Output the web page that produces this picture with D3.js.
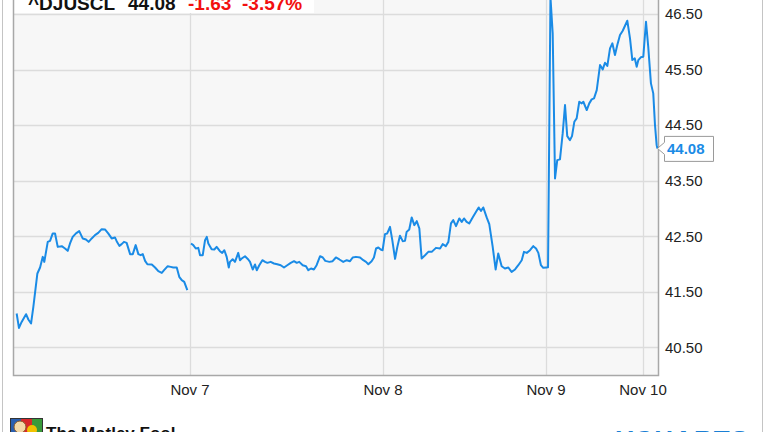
<!DOCTYPE html>
<html><head><meta charset="utf-8">
<script src="https://cdn.jsdelivr.net/npm/d3@7/dist/d3.min.js"></script>
<style>
html,body{margin:0;padding:0;background:#fff;}
svg{display:block;font-family:"Liberation Sans",Arial,sans-serif;}
</style></head>
<body>
<script>
// ---- Data (x = day of November, fractional; y = price) ----
const symbol = "^DJUSCL";
const lastPrice = 44.08;
const change = "-1.63";
const changePct = "-3.57%";

const seg1Days = [6.097,6.109,6.123,6.146,6.158,6.172,6.184,6.205,6.219,6.233,6.241,6.259,6.271,6.285,6.297,6.311,6.332,6.349,6.363,6.375,6.389,6.406,6.423,6.441,6.458,6.472,6.488,6.505,6.522,6.540,6.557,6.574,6.592,6.609,6.618,6.632,6.644,6.656,6.670,6.688,6.702,6.717,6.731,6.743,6.754,6.766,6.778,6.801,6.818,6.835,6.853,6.865,6.884,6.899,6.913,6.931,6.944,6.957,6.970,6.986];
const seg1Prices = [41.107,40.848,40.956,41.095,40.999,40.927,41.226,41.828,41.936,42.127,42.037,42.397,42.415,42.549,42.549,42.307,42.320,42.278,42.235,42.368,42.487,42.549,42.590,42.459,42.441,42.397,42.459,42.518,42.559,42.626,42.621,42.549,42.459,42.477,42.410,42.325,42.356,42.397,42.379,42.176,42.176,42.338,42.176,42.158,42.176,42.055,41.995,41.990,41.936,41.869,41.839,41.887,41.959,41.947,41.936,41.936,41.767,41.707,41.677,41.527];

const seg2Days = [7.005,7.017,7.030,7.043,7.052,7.066,7.078,7.087,7.095,7.112,7.126,7.138,7.155,7.167,7.178,7.190,7.201,7.207,7.221,7.233,7.250,7.259,7.268,7.285,7.302,7.311,7.325,7.337,7.346,7.359,7.375,7.389,7.401,7.418,7.435,7.452,7.470,7.487,7.504,7.522,7.539,7.553,7.566,7.584,7.601,7.613,7.627,7.642,7.656,7.674,7.688,7.701,7.722,7.739,7.756,7.774,7.794,7.812,7.829,7.843,7.860,7.881,7.898,7.912,7.924,7.941,7.953,7.964,7.976,7.988,7.998,
  8.012,8.026,8.043,8.057,8.074,8.088,8.104,8.121,8.135,8.145,8.161,8.176,8.192,8.207,8.223,8.237,8.258,8.278,8.299,8.325,8.350,8.366,8.385,8.401,8.417,8.431,8.448,8.468,8.483,8.497,8.513,8.529,8.550,8.571,8.587,8.601,8.615,8.636,8.652,8.673,8.691,8.707,8.728,8.748,8.769,8.789,8.810,8.830,8.851,8.865,8.882,8.902,8.922,8.939,8.953,8.969,8.983,9.004,9.021,
  9.046,9.069,9.093,9.116,9.144,9.172,9.196,9.219,9.247,9.268,9.292,9.316,9.343,9.368,9.385,9.420,9.446,9.471,9.495,9.523,9.557,9.585,9.608,9.632,9.660,9.684,9.711,9.735,9.763,9.791,9.838,9.866,9.890,9.915,9.935,9.952,9.977,10.003,10.031,10.054,10.082,10.106,10.124,10.141,10.149];
const seg2Prices = [42.368,42.338,42.278,42.289,42.157,42.157,42.428,42.487,42.368,42.266,42.260,42.307,42.229,42.199,42.247,42.127,41.936,42.037,42.085,42.037,42.199,42.067,42.098,42.139,42.080,42.037,41.900,41.990,41.887,41.977,42.067,42.037,42.019,42.037,42.008,41.995,41.977,41.936,41.977,42.019,42.049,42.019,42.037,41.977,41.959,41.887,41.918,41.900,41.977,42.139,42.116,42.055,42.037,42.049,42.116,42.080,42.037,42.067,42.049,42.116,42.127,42.116,42.067,42.037,41.995,42.049,42.116,42.278,42.296,42.260,42.247,
  42.536,42.548,42.667,42.428,42.091,42.307,42.509,42.410,42.415,42.577,42.620,42.837,42.698,42.770,42.638,42.098,42.157,42.217,42.217,42.289,42.278,42.356,42.320,42.397,42.729,42.788,42.680,42.819,42.757,42.819,42.757,42.729,42.837,42.938,43.017,42.956,43.017,42.837,42.716,42.307,41.900,42.188,41.959,41.918,41.936,41.856,41.900,41.977,42.067,42.217,42.199,42.247,42.320,42.278,42.199,41.977,41.929,41.936,41.940,
  46.800,46.152,43.539,43.869,43.882,44.350,44.860,44.302,44.229,44.302,44.559,44.620,44.920,44.891,44.920,44.770,44.891,44.963,44.981,45.130,45.581,45.503,45.622,45.563,45.882,45.972,45.761,45.941,46.121,46.199,46.379,46.062,45.671,45.702,45.550,45.671,45.720,45.730,46.361,45.911,45.251,45.071,44.500,44.139,44.080];

const tickDays = [7, 8, 9, 10];
const tickLabels = ["Nov 7", "Nov 8", "Nov 9", "Nov 10"];
const yTicks = [40.5, 41.5, 42.5, 43.5, 44.5, 45.5, 46.5];

// ---- Layout ----
const W = 764, H = 432;
const L = 13, R = 658, T = 14, B = 375;

const svg = d3.select("body").append("svg").attr("width", W).attr("height", H);

// piecewise day scale (sessions are not equally wide on this chart)
const x = d3.scaleLinear()
  .domain([6.078, 7, 8, 9, 10, 10.155])
  .range([L, 190, 383, 546, 643, R]);
const y = d3.scaleLinear().domain([40, 46.5]).range([B, T]);

// outer frame lines
svg.append("line").attr("x1", 2.5).attr("x2", 2.5).attr("y1", 0).attr("y2", H).attr("stroke", "#c4c4c4");
svg.append("line").attr("x1", 762.5).attr("x2", 762.5).attr("y1", 0).attr("y2", H).attr("stroke", "#c4c4c4");

// plot background
svg.append("rect").attr("x", L).attr("y", -20).attr("width", R - L).attr("height", B + 20)
  .attr("fill", "#f7f7f7");

// grid
const grid = svg.append("g").attr("stroke", "#dcdcdc").attr("stroke-width", 1.3);
grid.selectAll("line.h").data(yTicks).join("line")
  .attr("x1", L).attr("x2", R)
  .attr("y1", d => Math.round(y(d)) + 0.5).attr("y2", d => Math.round(y(d)) + 0.5);
grid.selectAll("line.v").data(tickDays).join("line")
  .attr("x1", d => Math.round(x(d)) + 0.5).attr("x2", d => Math.round(x(d)) + 0.5)
  .attr("y1", -20).attr("y2", B);

// title box
svg.append("rect").attr("x", L + 1).attr("y", -20).attr("width", 300).attr("height", 33).attr("fill", "#fff");
const title = svg.append("text").attr("y", 9.5).attr("font-size", 19).attr("font-weight", "bold");
title.append("tspan").attr("x", 28).attr("fill", "#111").text(symbol);
title.append("tspan").attr("x", 128).attr("fill", "#111").text(lastPrice.toFixed(2));
title.append("tspan").attr("x", 188).attr("fill", "#f21010").text(change);
title.append("tspan").attr("x", 242).attr("fill", "#f21010").text(changePct);

// plot border
svg.append("path")
  .attr("d", `M${L + 0.5},-20V${B + 0.5}H${R + 0.5}V-20`)
  .attr("fill", "none").attr("stroke", "#a8a8a8").attr("stroke-width", 1.5);

// series line
const line = d3.line().x(d => x(d[0])).y(d => y(d[1]));
const seg1 = seg1Days.map((d, i) => [d, seg1Prices[i]]);
const seg2 = seg2Days.map((d, i) => [d, seg2Prices[i]]);
svg.selectAll("path.series").data([seg1, seg2]).join("path")
  .attr("class", "series")
  .attr("d", line)
  .attr("fill", "none").attr("stroke", "#1a8be6").attr("stroke-width", 2)
  .attr("stroke-linejoin", "round");

// y-axis labels (right)
svg.append("g").selectAll("text").data(yTicks).join("text")
  .attr("x", 665).attr("y", d => y(d)).attr("dy", "0.36em")
  .attr("font-size", 15).attr("fill", "#222")
  .text(d => d.toFixed(2));

// x-axis labels
svg.append("g").selectAll("text").data(tickDays).join("text")
  .attr("x", d => x(d)).attr("y", 395)
  .attr("text-anchor", "middle").attr("font-size", 15).attr("fill", "#222")
  .text((d, i) => tickLabels[i]);

// last-price callout
const lastY = y(lastPrice);
svg.append("path")
  .attr("d", `M${R - 0.5},${lastY}L${664.5},${lastY - 6}V${lastY - 12}H713.5V${lastY + 13}H664.5V${lastY + 6}Z`)
  .attr("fill", "#fff").attr("stroke", "#9a9a9a").attr("stroke-width", 1);
svg.append("text").attr("x", 667).attr("y", lastY).attr("dy", "0.36em")
  .attr("font-size", 15).attr("font-weight", "bold").attr("fill", "#1a8be6")
  .text(lastPrice.toFixed(2));

// footer: Motley Fool logo + YCharts
const logo = svg.append("g");
logo.append("rect").attr("x", 10.5).attr("y", 418.5).attr("width", 32).attr("height", 20).attr("fill", "#fff").attr("stroke", "#333");
logo.append("rect").attr("x", 11).attr("y", 419).attr("width", 10).attr("height", 14).attr("fill", "#2a5fb0");
logo.append("rect").attr("x", 21).attr("y", 419).attr("width", 11).attr("height", 14).attr("fill", "#d8282a");
logo.append("rect").attr("x", 32).attr("y", 419).attr("width", 10).attr("height", 14).attr("fill", "#3a9a3a");
logo.append("circle").attr("cx", 20).attr("cy", 427).attr("r", 6).attr("fill", "#f4d9a8").attr("stroke", "#8a5a2a");
logo.append("circle").attr("cx", 32).attr("cy", 430).attr("r", 5).attr("fill", "#f2c200");
svg.append("text").attr("x", 46).attr("y", 439).attr("font-size", 17).attr("font-weight", "bold")
  .attr("fill", "#111").text("The Motley Fool");
svg.append("text").attr("x", 616).attr("y", 449).attr("font-size", 26).attr("font-weight", "bold")
  .attr("fill", "#1a7fd4").attr("textLength", 132).text("YCHARTS");
</script>
</body></html>
